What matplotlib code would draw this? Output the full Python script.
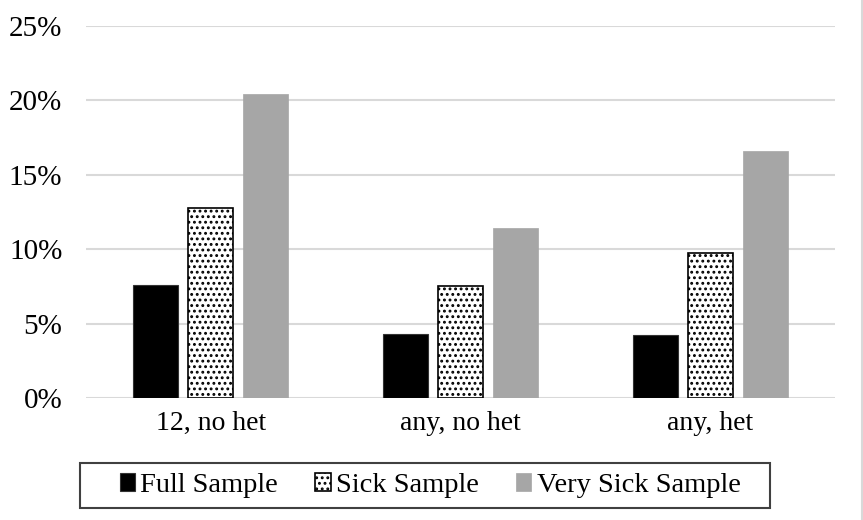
import numpy as np
from matplotlib import pyplot as plt
from matplotlib.patches import Rectangle
from matplotlib.ticker import PercentFormatter

categories = ['12, no het', 'any, no het', 'any, het']
full_sample = [7.6, 4.3, 4.25]
sick_sample = [12.75, 7.5, 9.75]
very_sick_sample = [20.4, 11.45, 16.6]
series_names = ['Full Sample', 'Sick Sample', 'Very Sick Sample']

plt.rcParams['font.family'] = ['Liberation Serif', 'DejaVu Serif']
plt.rcParams['hatch.linewidth'] = 1.3

fig = plt.figure(figsize=(8.63, 5.2), dpi=100)
ax = fig.add_axes([86 / 863, 1 - 398 / 520, 749 / 863, 372 / 520])

x = np.arange(len(categories))
w = 0.18
step = 0.22
b1 = ax.bar(x - step, full_sample, w, color='black', edgecolor='#333333',
            linewidth=0.8, zorder=3, label=series_names[0])
b2 = ax.bar(x, sick_sample, w, color='white', edgecolor='black',
            hatch='...', linewidth=1.2, zorder=3, label=series_names[1])
b3 = ax.bar(x + step, very_sick_sample, w, color='#a6a6a6',
            edgecolor='#a6a6a6', linewidth=0.5, zorder=3,
            label=series_names[2])

ax.set_xlim(-0.5, 2.5)
ax.set_ylim(0, 25)
ax.set_yticks(np.arange(0, 26, 5))
ax.yaxis.set_major_formatter(PercentFormatter(decimals=0))
ax.set_xticks(x)
ax.set_xticklabels(categories)
ax.tick_params(axis='both', length=0, colors='black')
ax.tick_params(axis='y', pad=17, labelsize=21)
ax.tick_params(axis='x', pad=9, labelsize=20)
ax.grid(axis='y', color='#d9d9d9', linewidth=1.5, zorder=0)
for s in ax.spines.values():
    s.set_visible(False)

leg = fig.legend(handles=[b1, b2, b3], loc='center',
                 bbox_to_anchor=(430 / 863, 1 - 485.5 / 520), ncol=3,
                 fontsize=20.5, frameon=False,
                 handlelength=0.55, handleheight=0.55, handletextpad=0.18,
                 columnspacing=1.3, borderpad=0.2, borderaxespad=0)
# legend box
fig.add_artist(Rectangle((80 / 863, 1 - 508 / 520), 690 / 863, 45 / 520,
                         transform=fig.transFigure, fill=False,
                         edgecolor='#404040', linewidth=1.5))

# thin frame line at the right edge of the chart area
fig.add_artist(plt.Line2D([862 / 863, 862 / 863], [0, 1], color='#d9d9d9',
                          linewidth=1.5, transform=fig.transFigure))

plt.savefig('out.png', dpi=100)
